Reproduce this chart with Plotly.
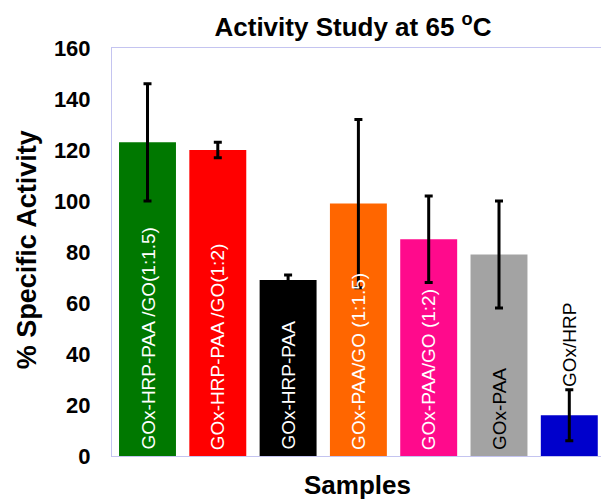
import plotly.graph_objects as go

categories = ["GOx-HRP-PAA /GO(1:1.5)", "GOx-HRP-PAA /GO(1:2)", "GOx-HRP-PAA",
              "GOx-PAA/GO (1:1.5)", "GOx-PAA/GO (1:2)", "GOx-PAA", "GOx/HRP"]
values = [123, 120, 69, 99, 85, 79, 16]
errors = [23, 3, 2, 33, 17, 21, 10]
colors = ["#007800", "#FF0000", "#000000", "#FF6600", "#FF0A8C", "#A3A3A3", "#0000CC"]
label_colors = ["white", "white", "white", "white", "white", "black", "black"]
label_inside = [True, True, True, True, True, True, False]
y_ticks = [0, 20, 40, 60, 80, 100, 120, 140, 160]

FONT = "Liberation Sans, Arial, sans-serif"
xs = list(range(len(categories)))

fig = go.Figure()
fig.add_trace(go.Bar(
    x=xs, y=values,
    marker=dict(color=colors, line=dict(width=0)),
    error_y=dict(type="data", array=errors, visible=True, color="black",
                 thickness=3, width=4),
    showlegend=False,
))

annotations = []
for i, (cat, v, e, lc, inside) in enumerate(zip(categories, values, errors, label_colors, label_inside)):
    if inside:
        annotations.append(dict(x=i, y=0, xref="x", yref="y", text=cat, showarrow=False,
                                textangle=-90, yanchor="bottom", xanchor="center", yshift=4,
                                font=dict(family=FONT, size=19, color=lc)))
    else:
        annotations.append(dict(x=i, y=v + e, xref="x", yref="y", text=cat, showarrow=False,
                                textangle=-90, yanchor="bottom", xanchor="center", yshift=1,
                                font=dict(family=FONT, size=19, color=lc)))

annotations.append(dict(x=0.503, y=-0.071, xref="paper", yref="paper", text="<b>Samples</b>",
                        showarrow=False, xanchor="center", yanchor="middle",
                        font=dict(family=FONT, size=26, color="black")))
annotations.append(dict(x=-0.173, y=0.505, xref="paper", yref="paper",
                        text="<b>% Specific Activity</b>", showarrow=False, textangle=-90,
                        xanchor="center", yanchor="middle",
                        font=dict(family=FONT, size=27, color="black")))

fig.update_layout(
    width=601, height=501,
    margin=dict(l=112, r=0, t=48, b=45),
    paper_bgcolor="white", plot_bgcolor="white",
    title=dict(text="<b>Activity Study at 65 <sup>o</sup>C</b>", x=353 / 601, xref="container",
               xanchor="center", y=1 - 27 / 501, yref="container", yanchor="middle",
               font=dict(family=FONT, size=26, color="black")),
    bargap=0.19,
    annotations=annotations,
    xaxis=dict(range=[-0.505, 6.451], showticklabels=False, ticks="", showgrid=False,
               zeroline=False, showline=True, linecolor="#C4C4F0", linewidth=1, mirror=True,
               fixedrange=True),
    yaxis=dict(range=[0, 160], tickvals=y_ticks,
               ticks="", showgrid=False, zeroline=False,
               showline=True, linecolor="#C4C4F0", linewidth=1,
               tickfont=dict(family=FONT, size=22, color="black", weight=700),
               ticklabelstandoff=16, fixedrange=True),
)

fig.write_html("out.html", config={"displayModeBar": False})
